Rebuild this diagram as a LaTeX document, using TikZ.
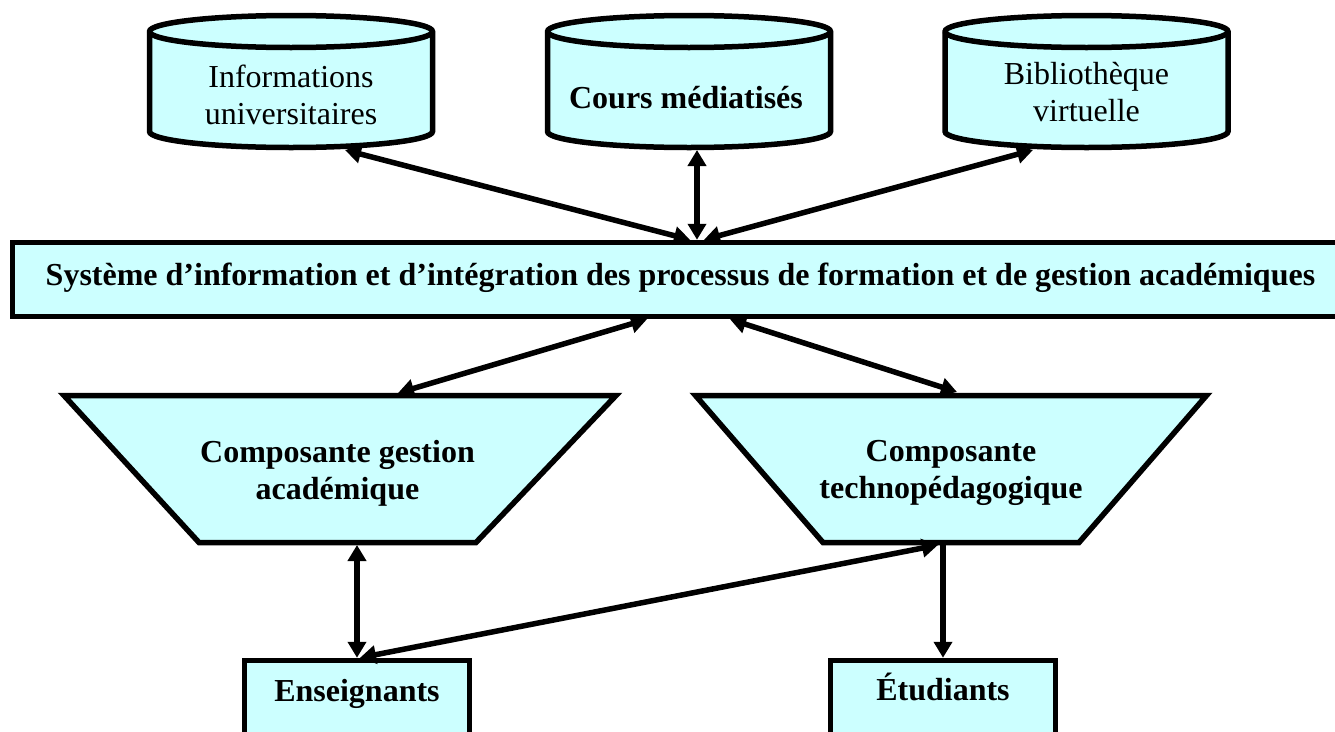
\documentclass[tikz,border=0pt]{standalone}
\usepackage{fontspec}
\setmainfont{Liberation Serif}
\usetikzlibrary{arrows.meta}
\definecolor{cyanfill}{HTML}{CCFFFF}
\newcommand{\dbcyl}[1]{%
  \filldraw[shapeline] (#1-141.5,31.5) -- (#1-141.5,131.5)
    arc[start angle=180,end angle=360,x radius=141.5pt,y radius=16pt]
    -- (#1+141.5,31.5)
    arc[start angle=0,end angle=180,x radius=141.5pt,y radius=16pt] -- cycle;
  \draw[shapeline,fill=none] (#1-141.5,31.5)
    arc[start angle=180,end angle=360,x radius=141.5pt,y radius=16pt];
}
\begin{document}
\begin{tikzpicture}[x=1pt,y=-1pt,
  shapeline/.style={draw=black,line width=5.5pt,fill=cyanfill,line join=miter},
  conn/.style={line width=5.5pt,draw=black},
  >={Triangle[length=16pt,width=18pt]},
  hold/.style={inner sep=0pt,outer sep=0pt,draw=none,rectangle},
  txt/.style={font=\fontsize{32pt}{37pt}\selectfont,align=center,inner sep=0pt},
  btxt/.style={font=\fontsize{32pt}{37pt}\selectfont\bfseries,align=center,inner sep=0pt},
  boxnode/.style={shapeline,rectangle,inner sep=0pt}]
\useasboundingbox (0,0) rectangle (1335,731);

% database cylinders
\dbcyl{291}
\dbcyl{689}
\dbcyl{1086.5}
\node[hold,minimum width=288pt,minimum height=137pt,
  label={[txt,yshift=-13pt]center:{Informations\\universitaires}}] (c1) at (291,81.5) {};
\node[hold,minimum width=288pt,minimum height=137pt,
  label={[btxt,xshift=-3pt,yshift=-16.3pt]center:{Cours médiatisés}}] (c2) at (689,81.5) {};
\node[hold,minimum width=288pt,minimum height=137pt,
  label={[txt,yshift=-11pt]center:{Bibliothèque\\virtuelle}}] (c3) at (1086.5,81.5) {};

% central system
\node[boxnode,minimum width=1327.5pt,minimum height=74pt,
  label={[btxt,xshift=4.25pt,yshift=2pt]center:{Système d’information et d’intégration des processus de formation et de gestion académiques}}] (sys) at (676.25,279.5) {};

% components (trapezoids)
\filldraw[shapeline] (64,395.5) -- (616,395.5) -- (476,542.5) -- (199,542.5) -- cycle;
\filldraw[shapeline] (695.5,395.5) -- (1206.5,395.5) -- (1079,542.5) -- (823,542.5) -- cycle;
\node[hold,minimum width=564pt,minimum height=152pt,
  label={[btxt,xshift=-2.5pt,yshift=-4.3pt]center:{Composante gestion\\académique}}] (gest) at (340,469) {};
\node[hold,minimum width=522pt,minimum height=153pt,
  label={[btxt,yshift=-4.8pt]center:{Composante\\technopédagogique}}] (tech) at (951,468.5) {};

% users
\node[boxnode,minimum width=225pt,minimum height=90pt,
  label={[btxt,yshift=11.2pt]center:{Enseignants}}] (ens) at (357,705.5) {};
\node[boxnode,minimum width=225pt,minimum height=90pt,
  label={[btxt,yshift=18.3pt]center:{Étudiants}}] (etu) at (943,705.5) {};

% connectors
\draw[conn,<->] ([xshift=54pt]c1.south) -- ([xshift=13.75pt]sys.north);
\draw[conn,<->] ([xshift=8pt]c2.south) -- ([xshift=20.75pt]sys.north);
\draw[conn,<->] ([xshift=-53.5pt]c3.south) -- ([xshift=27.75pt]sys.north);
\draw[conn,<->] ([xshift=-29.25pt]sys.south) -- ([xshift=58pt]gest.north);
\draw[conn,<->] ([xshift=53.75pt]sys.south) -- ([xshift=6pt]tech.north);
\draw[conn,<->] ([xshift=17pt]gest.south) -- (ens.north);
\draw[conn,->] ([xshift=-8pt]tech.south) -- (etu.north);
\draw[conn,<->] ([xshift=3pt]ens.north) -- ([xshift=-13pt]tech.south);
\end{tikzpicture}
\end{document}
